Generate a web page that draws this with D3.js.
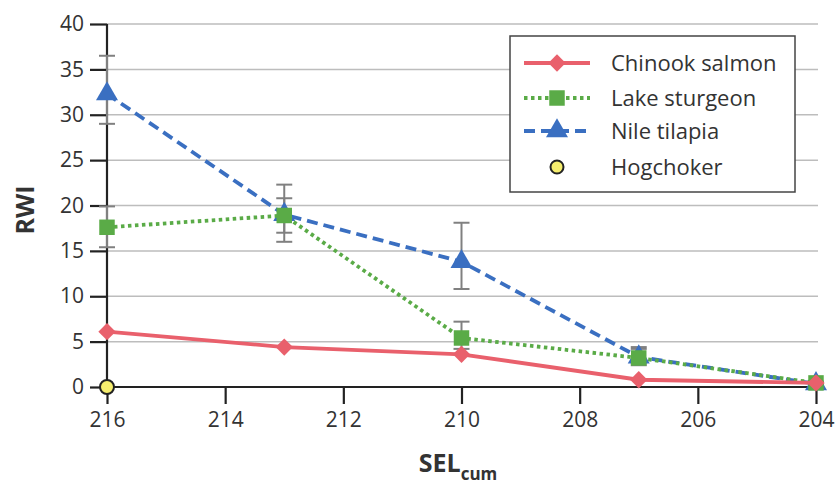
<!DOCTYPE html>
<html><head><meta charset="utf-8">
<script src="https://cdn.jsdelivr.net/npm/d3@7"></script>
<style>body{margin:0;background:#fff}svg{display:block}text{font-family:"Open Sans","Noto Sans",sans-serif;fill:#333}</style>
</head><body><svg id="c" width="838" height="488"></svg>
<script>
const xValues = [216, 213, 210, 207, 204];
const chinook = [6.1, 4.4, 3.6, 0.8, 0.45];
const sturgeon = [17.6, 18.9, 5.4, 3.2, 0.45];
const sturgeonLo = [15.4, 17.0, 4.2, 2.4, 0.3];
const sturgeonHi = [19.9, 20.8, 7.2, 4.4, 0.6];
const tilapia = [32.3, 19.0, 13.8, 3.3, 0.35];
const tilapiaLo = [29.0, 16.0, 10.8, 2.6, 0.2];
const tilapiaHi = [36.5, 22.3, 18.1, 4.2, 0.5];
const hogchokerX = [216];
const hogchoker = [0];
const yTicks = [0, 5, 10, 15, 20, 25, 30, 35, 40];
const xTicks = [216, 214, 212, 210, 208, 206, 204];
const legendLabels = ["Chinook salmon", "Lake sturgeon", "Nile tilapia", "Hogchoker"];

const svg = d3.select("#c");
const x = d3.scaleLinear().domain([216, 204]).range([107, 816]);
const y = d3.scaleLinear().domain([0, 40]).range([387, 24]);

const colors = {red: "#e9606c", green: "#5aab47", blue: "#3a6fc1"};

// gridlines
svg.append("g").selectAll("line").data(yTicks.filter(d => d > 0)).join("line")
  .attr("x1", x(216)).attr("x2", 818).attr("y1", d => y(d)).attr("y2", d => y(d))
  .attr("stroke", "#bdbdbd").attr("stroke-width", 1.5);

// axes
const yAxis = svg.append("g").attr("transform", `translate(${x(216)},0)`)
  .call(d3.axisLeft(y).tickValues(yTicks).tickSize(17).tickPadding(6));
const xAxis = svg.append("g").attr("transform", `translate(0,${y(0)})`)
  .call(d3.axisBottom(x).tickValues(xTicks).tickSize(17).tickPadding(8));
[yAxis, xAxis].forEach(g => {
  g.select(".domain").attr("stroke", "#222").attr("stroke-width", 2.2);
  g.selectAll(".tick line").attr("stroke", "#222").attr("stroke-width", 2.2);
  g.selectAll(".tick text").attr("font-size", 21).attr("fill", "#333")
    .attr("font-family", '"Open Sans", sans-serif');
});
yAxis.select(".domain").attr("d", `M0,${y(0)}V${y(40)}`);
xAxis.select(".domain").attr("d", `M${x(216)},0H${x(204)}`);

// error bars
function errBars(lo, hi) {
  const g = svg.append("g").attr("stroke", "#808080").attr("stroke-width", 2);
  xValues.forEach((xv, i) => {
    g.append("line").attr("x1", x(xv)).attr("x2", x(xv)).attr("y1", y(lo[i])).attr("y2", y(hi[i]));
    [lo[i], hi[i]].forEach(v => g.append("line").attr("x1", x(xv) - 8).attr("x2", x(xv) + 8)
      .attr("y1", y(v)).attr("y2", y(v)));
  });
}
errBars(tilapiaLo, tilapiaHi);
errBars(sturgeonLo, sturgeonHi);

const line = d3.line().x((d, i) => x(xValues[i])).y(d => y(d));
const diamond = d3.symbol().type(d3.symbolSquare).size(150);

function series(vals, color, dash, symFn, rot) {
  svg.append("path").datum(vals).attr("d", line).attr("fill", "none")
    .attr("stroke", color).attr("stroke-width", 3.8).attr("stroke-dasharray", dash);
  svg.append("g").selectAll("path").data(vals).join("path")
    .attr("transform", (d, i) => `translate(${x(xValues[i])},${y(d)}) rotate(${rot})`)
    .attr("d", symFn).attr("fill", color);
}
series(tilapia, colors.blue, "11,6", d3.symbol().type(d3.symbolTriangle).size(210), 0);
series(sturgeon, colors.green, "3.5,3.5", d3.symbol().type(d3.symbolSquare).size(240), 0);
series(chinook, colors.red, null, diamond, 45);

svg.append("g").selectAll("circle").data(hogchoker).join("circle")
  .attr("cx", (d, i) => x(hogchokerX[i])).attr("cy", d => y(d)).attr("r", 7)
  .attr("fill", "#f6ee6e").attr("stroke", "#222").attr("stroke-width", 2);

// legend
const lg = svg.append("g");
lg.append("rect").attr("x", 510).attr("y", 36).attr("width", 285).attr("height", 156)
  .attr("fill", "#fff").attr("stroke", "#444").attr("stroke-width", 1.5);
const ly = [63, 98, 131, 167];
const legendSpecs = [
  {c: colors.red, dash: null, sym: diamond, rot: 45},
  {c: colors.green, dash: "3.5,3.5", sym: d3.symbol().type(d3.symbolSquare).size(240), rot: 0},
  {c: colors.blue, dash: "11,6", sym: d3.symbol().type(d3.symbolTriangle).size(210), rot: 0},
  null
];
legendLabels.forEach((lab, i) => {
  const s = legendSpecs[i];
  if (s) {
    lg.append("line").attr("x1", 524).attr("x2", 590).attr("y1", ly[i]).attr("y2", ly[i])
      .attr("stroke", s.c).attr("stroke-width", 3.8).attr("stroke-dasharray", s.dash);
    lg.append("path").attr("transform", `translate(557,${ly[i]}) rotate(${s.rot})`)
      .attr("d", s.sym).attr("fill", s.c);
  } else {
    lg.append("circle").attr("cx", 557).attr("cy", ly[i]).attr("r", 6.5)
      .attr("fill", "#f6ee6e").attr("stroke", "#222").attr("stroke-width", 2);
  }
  lg.append("text").attr("x", 611).attr("y", ly[i]).attr("dy", "0.35em")
    .attr("font-size", 22).text(lab);
});

// axis titles
svg.append("text").attr("transform", "translate(34,210) rotate(-90)")
  .attr("text-anchor", "middle").attr("font-size", 25).attr("font-weight", "bold").attr("fill", "#222").text("RWI");
const xt = svg.append("text").attr("x", 458).attr("y", 472).attr("text-anchor", "middle")
  .attr("font-size", 25).attr("font-weight", "bold").attr("fill", "#222");
xt.append("tspan").text("SEL");
xt.append("tspan").attr("dy", 8).attr("font-size", 17).text("cum");
</script></body></html>
